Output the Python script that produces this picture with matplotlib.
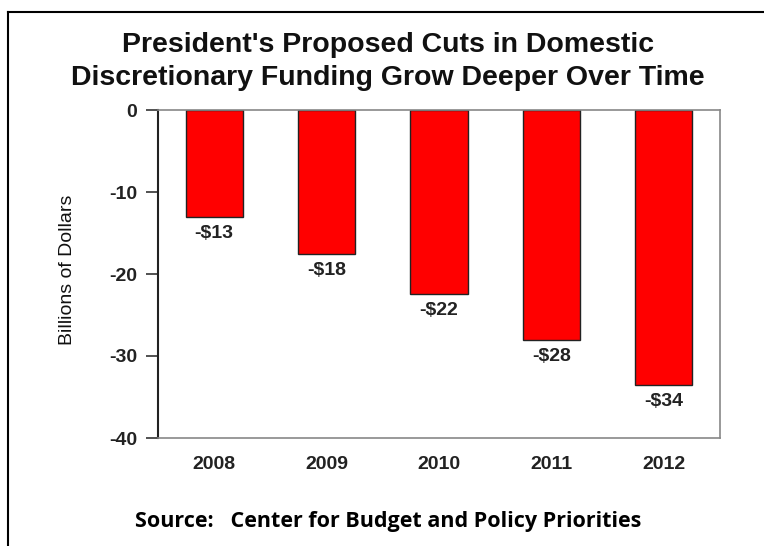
import matplotlib.pyplot as plt
from matplotlib.lines import Line2D

# values (billions of dollars)
years = ["2008", "2009", "2010", "2011", "2012"]
cuts = [-13.0, -17.5, -22.4, -28.0, -33.5]
labels = ["-$13", "-$18", "-$22", "-$28", "-$34"]
yticks = [0, -10, -20, -30, -40]

fig = plt.figure(figsize=(7.64, 5.46), dpi=100)
ax = fig.add_axes([158 / 764, 1 - 438 / 546, (720 - 158) / 764, (438 - 110) / 546])

x = range(len(years))
ax.bar(x, cuts, width=0.51, color="#ff0000", edgecolor="#222222", linewidth=1.0)
for xi, v, lab in zip(x, cuts, labels):
    ax.annotate(lab, (xi, v), xytext=(0, -6), textcoords="offset points",
                ha="center", va="top", fontsize=14, fontweight="bold",
                family="Liberation Sans", color="#222222")

ax.set_xlim(-0.5, len(years) - 0.5)
ax.set_ylim(-40, 0)
ax.set_yticks(yticks)
ax.set_yticklabels([str(t) for t in yticks], fontsize=14, fontweight="bold",
                   family="Liberation Sans", color="#222222")
ax.set_xticks(list(x))
ax.set_xticklabels(years, fontsize=14, fontweight="bold",
                   family="Liberation Sans", color="#222222")
ax.tick_params(axis="x", length=0, pad=13)
ax.tick_params(axis="y", length=9, width=1.2, color="#333333", pad=6)
ax.spines["left"].set_color("#222222")
ax.spines["left"].set_linewidth(1.5)
for s in ["top", "right", "bottom"]:
    ax.spines[s].set_color("#888888")
    ax.spines[s].set_linewidth(1.2)
ax.set_ylabel("Billions of Dollars", fontsize=14, family="Liberation Sans",
              color="#111111")
ax.yaxis.set_label_coords(-82 / 562, 0.512)

fig.text(0.508, 1 - 45 / 546, "President's Proposed Cuts in Domestic",
         ha="center", va="center", fontsize=20.5, fontweight="bold",
         family="Liberation Sans", color="#111111")
fig.text(0.508, 1 - 78 / 546, "Discretionary Funding Grow Deeper Over Time",
         ha="center", va="center", fontsize=20.5, fontweight="bold",
         family="Liberation Sans", color="#111111")
fig.text(0.508, 1 - 521 / 546, "Source:   Center for Budget and Policy Priorities",
         ha="center", va="center", fontsize=15.5, fontweight="bold",
         family="Open Sans", color="#000000")

# frame lines (top and left edges of the original box)
fig.add_artist(Line2D([8 / 764, 8 / 764], [0, 1 - 12 / 546], color="black", lw=1.5,
                      transform=fig.transFigure))
fig.add_artist(Line2D([8 / 764, 1], [1 - 12 / 546, 1 - 12 / 546], color="black", lw=1.5,
                      transform=fig.transFigure))

fig.savefig("out.png", dpi=100)
plt.close(fig)
